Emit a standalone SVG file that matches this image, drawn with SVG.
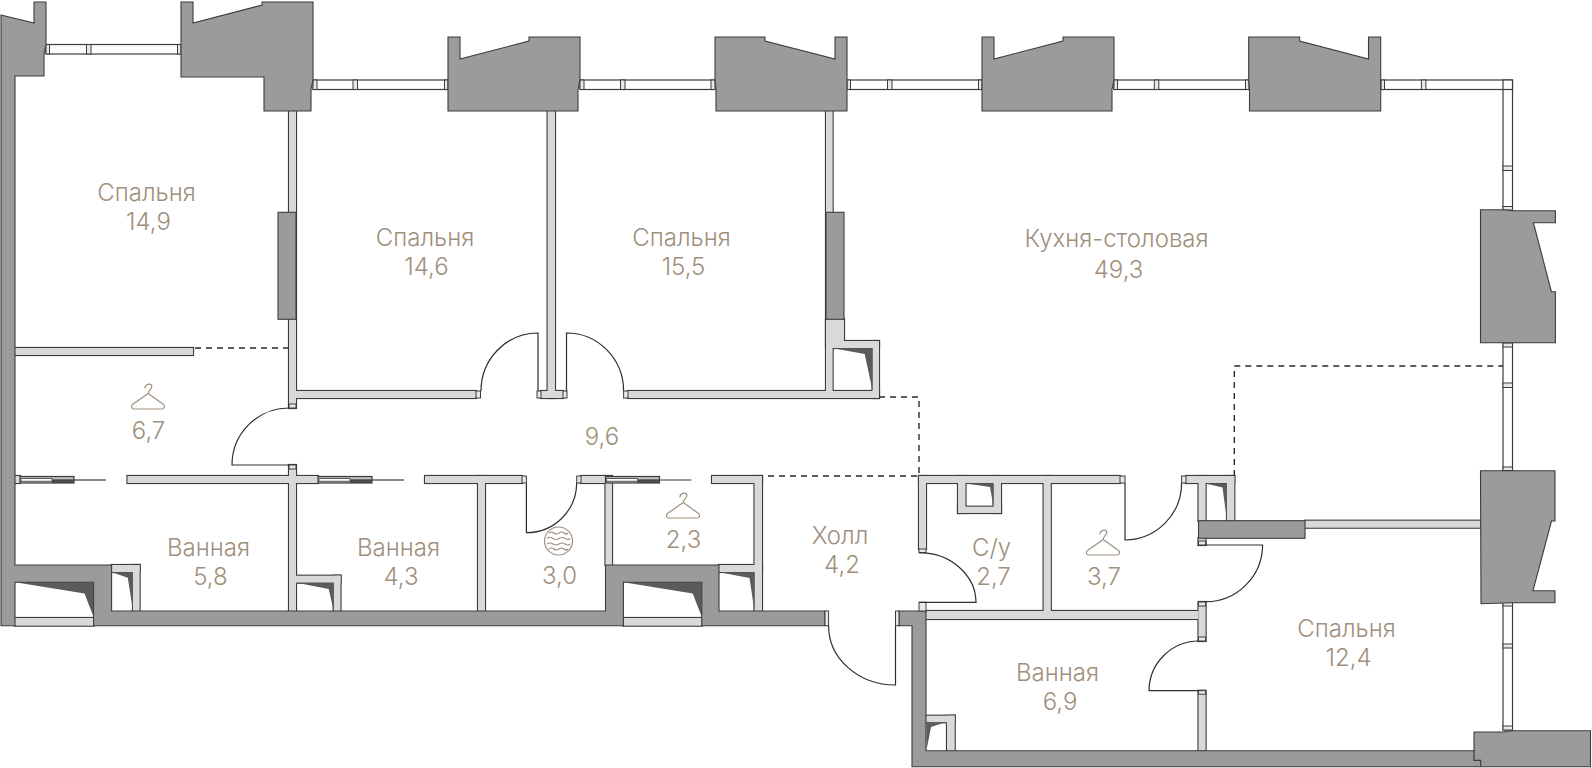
<svg xmlns="http://www.w3.org/2000/svg" xmlns:xlink="http://www.w3.org/1999/xlink" width="1592" height="768" viewBox="0 0 1592 768">
<style>
.bg{fill:#fff}
.wo{fill:#3c3c3c;stroke:#3c3c3c;stroke-width:2.2}
.wf{fill:#d9d9d9;stroke:none}
.g{fill:#9b9b9b;stroke:#3c3c3c;stroke-width:1.1;stroke-linejoin:miter}
.m{fill:#fff;stroke:#3c3c3c;stroke-width:1.2}
.e{fill:#e8e8e8;stroke:#3c3c3c;stroke-width:1}
.k{fill:#5b5b5b;stroke:none}
.s{fill:#fff;stroke:none}
.dr{fill:none;stroke:#2e2e2e;stroke-width:1.2}
.da{fill:none;stroke:#2a2a2a;stroke-width:1.4;stroke-dasharray:6 5}
.th{fill:none;stroke:#3c3c3c;stroke-width:1.2}
.t{font-family:"Inter","Liberation Sans",sans-serif;font-weight:300;font-size:24px;fill:#a08f7c;text-anchor:middle}
.ic{fill:none;stroke:#a08f7c;stroke-width:1.2}
</style>
<defs>
<g id="walls">
<rect x="289" y="111" width="7" height="297"/>
<rect x="296" y="391" width="180" height="7"/>
<rect x="547.6" y="111" width="7.4" height="287"/>
<rect x="541" y="391" width="22" height="7"/>
<rect x="628" y="391" width="251" height="7"/>
<rect x="826" y="111" width="6.6" height="280"/>
<rect x="826" y="319" width="18" height="29"/>
<rect x="844" y="341" width="35" height="7"/>
<rect x="872.5" y="341" width="6.5" height="57"/>
<rect x="15" y="348" width="178" height="7"/>
<rect x="127.5" y="476" width="190.5" height="7"/>
<rect x="289" y="465" width="7" height="146"/>
<rect x="425" y="476" width="97" height="7"/>
<rect x="478" y="476" width="7" height="135"/>
<rect x="581" y="476" width="24.5" height="7"/>
<rect x="605.5" y="476" width="6.5" height="89"/>
<rect x="712" y="476" width="50" height="7"/>
<rect x="754.5" y="476" width="7.5" height="135"/>
<rect x="919" y="476" width="201" height="7"/>
<rect x="919" y="476" width="7" height="73"/>
<rect x="958" y="476" width="7.5" height="37"/>
<rect x="993.5" y="476" width="7.5" height="37"/>
<rect x="958" y="506.7" width="43" height="6.3"/>
<rect x="1043.6" y="476" width="7.2" height="135"/>
<rect x="926" y="611" width="272.5" height="8"/>
<rect x="1186" y="476" width="48.3" height="7"/>
<rect x="1198.5" y="476" width="7.1" height="45"/>
<rect x="1227" y="476" width="7.3" height="45"/>
<rect x="1198.5" y="602" width="7.1" height="39"/>
<rect x="1198.5" y="690.7" width="7.1" height="60"/>
<rect x="1305" y="520.7" width="175.5" height="7"/>
<rect x="111.6" y="565" width="28" height="7"/>
<rect x="133" y="565" width="6.6" height="46"/>
<rect x="296" y="575.7" width="44.5" height="7"/>
<rect x="333.7" y="575.7" width="6.8" height="35.3"/>
<rect x="719" y="565" width="43" height="7"/>
<rect x="926" y="715.7" width="28.7" height="6.6"/>
<rect x="947" y="715.7" width="7.7" height="35.3"/>
<rect x="15" y="618" width="78.6" height="7.7"/>
<rect x="623.4" y="618" width="78.4" height="7.7"/>
<rect x="15" y="476" width="5" height="7"/>
<rect x="1198.5" y="538" width="7.1" height="7"/>
</g>
<g id="slider">
<rect x="0" y="0.5" width="54" height="6.500" fill="#bdbdbd" stroke="#3c3c3c" stroke-width="1.200"/>
<rect x="1" y="2.600" width="31" height="2.600" fill="#fff" stroke="#3c3c3c" stroke-width=".8"/>
<rect x="32" y="3.300" width="22" height="3.700" fill="#4a4a4a"/>
<path d="M54 4H86" class="th"/>
</g>
<g id="hanger">
<path d="M-3 5.500C-3.500 1.500 3 -.5 3.800 3C4.400 6 .2 6.500 .2 10.500L15.500 21.500C17.500 23.300 16.500 26 14 26H-14C-16.500 26 -17.500 23.300 -15.500 21.500L.2 10.500" class="ic"/>
</g>
</defs>
<rect class="bg" width="1592" height="768"/>

<g id="windows">
<rect class="m" x="46" y="44.500" width="135" height="9.500"/>
<rect class="e" x="46" y="44.500" width="3.500" height="9.500"/><rect class="e" x="86.500" y="44.500" width="4.500" height="9.500"/><rect class="e" x="177.500" y="44.500" width="3.500" height="9.500"/>
<rect class="m" x="313" y="80" width="135" height="9.500"/>
<rect class="e" x="313" y="80" width="4" height="9.500"/><rect class="e" x="353" y="80" width="4.500" height="9.500"/><rect class="e" x="444.500" y="80" width="3.500" height="9.500"/>
<rect class="m" x="580" y="80" width="135" height="9.500"/>
<rect class="e" x="580" y="80" width="4" height="9.500"/><rect class="e" x="620.500" y="80" width="4.500" height="9.500"/><rect class="e" x="711" y="80" width="4" height="9.500"/>
<rect class="m" x="847" y="80" width="135" height="9.500"/>
<rect class="e" x="847" y="80" width="3.500" height="9.500"/><rect class="e" x="887.500" y="80" width="4.500" height="9.500"/><rect class="e" x="978.500" y="80" width="3.500" height="9.500"/>
<rect class="m" x="1114" y="80" width="135" height="9.500"/>
<rect class="e" x="1114" y="80" width="3.500" height="9.500"/><rect class="e" x="1154.300" y="80" width="4.500" height="9.500"/><rect class="e" x="1245.500" y="80" width="3.500" height="9.500"/>
<rect class="m" x="1381" y="80" width="131.500" height="9.500"/>
<rect class="e" x="1381" y="80" width="3.500" height="9.500"/><rect class="e" x="1421.400" y="80" width="4.500" height="9.500"/>
<rect class="m" x="1503" y="80" width="9.500" height="130"/>
<path class="th" d="M1503 89.500H1512.500"/>
<rect class="e" x="1503" y="166" width="9.500" height="4.500"/><rect class="e" x="1503" y="206.500" width="9.500" height="3.500"/>
<rect class="m" x="1503" y="343" width="9.500" height="128"/>
<rect class="e" x="1503" y="343" width="9.500" height="4"/><rect class="e" x="1503" y="383" width="9.500" height="4.500"/><rect class="e" x="1503" y="467" width="9.500" height="3.500"/>
<rect class="m" x="1503" y="602" width="9.500" height="128"/>
<rect class="e" x="1503" y="602" width="9.500" height="4"/><rect class="e" x="1503" y="644" width="9.500" height="4"/><rect class="e" x="1503" y="726" width="9.500" height="4"/>
</g>

<g id="partitions">
<use href="#walls" class="wo"/>
<use href="#walls" class="wf"/>
</g>

<g id="shafts">
<path class="k" d="M15 582.300H93.600V617L84.500 593.500Z"/>
<path class="k" d="M623.400 582.300H701.800V617L692.700 593.500Z"/>
<path class="k" d="M112 572.300H133V611L127.800 577.700Z"/>
<path class="k" d="M296.500 582.700H333.700V611L328.700 589Z"/>
<path class="k" d="M719.500 572.300H754.500V611L749.500 578Z"/>
<path class="k" d="M926.500 722.300H945.500L931 727L926.500 750Z"/>
<path class="k" d="M966 483.500H993.500V506.700L990 487Z"/>
<path class="k" d="M1205.600 483.500H1227V521L1222.500 487.500Z"/>
<path class="k" d="M833 348.300H872.500V390.500L864.700 354Z"/>
</g>

<g id="structure">
<path class="g" d="M1 15L34 23V2H46V44.500L44 54V76H15V565H111.600V611H605.500V565H719V611H825V625.700H701.800V582.300H623.400V625.700H93.600V582.300H15V625.700H1Z"/>
<path class="g" d="M181 2H193V23L262 5V2H313V80L311 89.500V111H264V77H181Z"/>
<path class="g" d="M448 37H460V59L529 41V37H580V80L578 89.500V111H448Z"/>
<path class="g" d="M715 37H765V41L835 59V37H847V111H716V89.500L715 80Z"/>
<path class="g" d="M982 37H994V59L1063 41V37H1114V80L1112 89.500V111H982Z"/>
<path class="g" d="M1248.700 37H1299.600V41L1368.500 59V37H1380.700V111H1249.500V89.500L1248.700 80Z"/>
<path class="g" d="M1480.500 209.700H1503L1512.500 210.700H1555.400V222.700H1533.400L1551.400 291.700H1555.400V342.700H1480.500Z"/>
<path class="g" d="M1480.500 470.700H1555V521H1551.500L1533 590.700H1555V602.700H1512.500L1481 603.700Z"/>
<path class="g" d="M899 611H926V750.700H1474V732H1503L1512.500 730.700H1590.500V766.700H912V625.700H899Z"/>
<path class="th" d="M1474 750V760.300H1480.700V766.700"/>
<rect class="g" x="278" y="212.300" width="18" height="107"/>
<rect class="g" x="826" y="212.300" width="18" height="107"/>
<rect class="g" x="1198.500" y="520.700" width="106.500" height="17.600"/>
<rect class="e" x="825" y="611" width="3.600" height="14.700"/>
<rect class="e" x="895.500" y="611" width="3.500" height="14.700"/>
<rect class="e" x="476" y="391" width="4.500" height="7"/>
<rect class="e" x="537" y="391" width="4" height="7"/>
<rect class="e" x="563" y="391" width="4" height="7"/>
<rect class="e" x="623.600" y="391" width="4.400" height="7"/>
<rect class="e" x="289" y="404" width="7" height="4"/>
<rect class="e" x="289" y="465" width="7" height="4"/>
<rect class="e" x="522" y="476" width="4.400" height="7"/>
<rect class="e" x="576.700" y="476" width="4.300" height="7"/>
<rect class="e" x="1120" y="476" width="5" height="7"/>
<rect class="e" x="1181.600" y="476" width="4.400" height="7"/>
<rect class="e" x="919" y="549" width="7" height="3.700"/>
<rect class="e" x="919" y="602.300" width="7" height="8.700"/>
<rect class="e" x="1198.500" y="541" width="7.100" height="4"/>
<rect class="e" x="1198.500" y="602" width="7.100" height="4"/>
<rect class="e" x="1198.500" y="637" width="7.100" height="4"/>
<rect class="e" x="1198.500" y="690.700" width="7.100" height="3.500"/>
</g>

<g id="sliders">
<use href="#slider" x="20" y="476"/>
<use href="#slider" x="318" y="476"/>
<use href="#slider" x="605.500" y="476"/>
</g>

<g id="doors">
<path class="dr" d="M481 391A57 58 0 0 1 538 333V391"/>
<path class="dr" d="M566.500 391V333A57 58 0 0 1 623.600 391"/>
<path class="dr" d="M289 465H232A57 57 0 0 1 289 408"/>
<path class="dr" d="M526.400 483V532.700A50 50 0 0 0 576.700 483"/>
<path class="dr" d="M895.500 625.700V685A67 59 0 0 1 828.600 625.700"/>
<path class="dr" d="M919 602.300H976A57 50 0 0 0 919 552.700"/>
<path class="dr" d="M1125 483V540A57 57 0 0 0 1181.600 483"/>
<path class="dr" d="M1205.600 545H1262.600A57 57 0 0 1 1205.600 601.700"/>
<path class="dr" d="M1198.500 690.700H1149A50 50 0 0 1 1198.500 641"/>
</g>

<g id="dashes">
<path class="da" d="M195 348H289"/>
<path class="da" d="M879 397H919V476H765"/>
<path class="da" d="M1234.300 476V366H1503"/>
</g>

<g id="icons">
<use href="#hanger" x="148" y="383"/>
<use href="#hanger" x="683" y="492"/>
<use href="#hanger" x="1103" y="529"/>
<g id="vent">
<circle class="ic" cx="558.500" cy="541" r="14"/>
<path class="ic" d="M549 533q3 -2 5 0t5 0t5 0t4 0M547 538.500q3 -2 6 0t6 0t6 0t5 0M547 544q3 -2 6 0t6 0t6 0t5 0M549 549q3 -2 5 0t5 0t5 0t4 0"/>
</g>
</g>

<g id="labels" transform="translate(.5 1)">
<text class="t" x="146" y="199.500">Спальня</text><text class="t" x="148" y="228.500">14,9</text>
<text class="t" x="424.500" y="245">Спальня</text><text class="t" x="426" y="274">14,6</text>
<text class="t" x="681" y="245">Спальня</text><text class="t" x="683" y="274">15,5</text>
<text class="t" x="1116" y="245.500">Кухня-столовая</text><text class="t" x="1118" y="277">49,3</text>
<text class="t" x="148" y="438">6,7</text>
<text class="t" x="601.500" y="444">9,6</text>
<text class="t" x="208" y="554.700">Ванная</text><text class="t" x="210" y="584">5,8</text>
<text class="t" x="398" y="554.700">Ванная</text><text class="t" x="400.500" y="584">4,3</text>
<text class="t" x="559" y="583">3,0</text>
<text class="t" x="683" y="546.700">2,3</text>
<text class="t" x="839.500" y="542.700">Холл</text><text class="t" x="841.500" y="571.700">4,2</text>
<text class="t" x="991" y="555">С/у</text><text class="t" x="993" y="584">2,7</text>
<text class="t" x="1103.500" y="584">3,7</text>
<text class="t" x="1057" y="680">Ванная</text><text class="t" x="1059.500" y="709">6,9</text>
<text class="t" x="1346" y="636">Спальня</text><text class="t" x="1348" y="665">12,4</text>
</g>
</svg>
